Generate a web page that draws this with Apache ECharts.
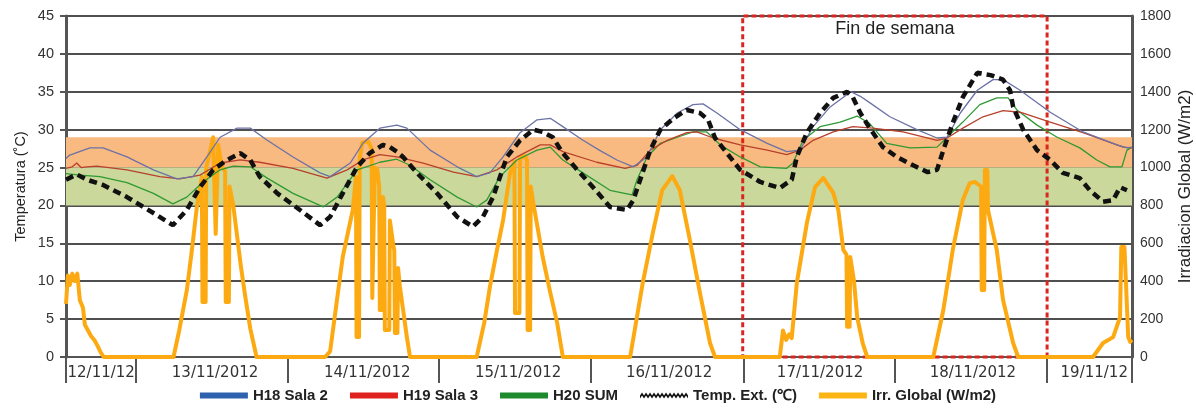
<!DOCTYPE html>
<html><head><meta charset="utf-8">
<script src="https://cdn.jsdelivr.net/npm/echarts@6/dist/echarts.min.js"></script>
<style>html,body{margin:0;padding:0;background:#fff}#c{width:1196px;height:415px}</style>
</head><body><div id="c"></div>
<script>
// x values: hours counted from 12/11/2012 00:00
const dayLabels = ['12/11/12','13/11/2012','14/11/2012','15/11/2012','16/11/2012','17/11/2012','18/11/2012','19/11/12'];
const dayLabelPos = [17.6, 35.7, 59.9, 83.9, 107.9, 131.9, 156.2, 175.5];
const daySeparators = [12, 23.1, 47.2, 71.3, 95.5, 119.7, 143.8, 168.0, 181.5];
const xStart = 12, xEnd = 181.5;
const weekendStart = 119.6, weekendEnd = 168.0;
const comfortBand = [25, 29];
const acceptBand = [20, 25];
const tempTicks = [0, 45, 5];
const irrTicks = [0, 1800, 200];

const h18Hours = [12.0,12.5,15.8,17.9,21.7,25.9,29.6,32.2,34.4,36.5,39.2,41.3,44.0,48.1,52.4,54.0,57.2,59.2,61.9,64.6,66.2,69.9,74.2,77.3,79.4,81.5,84.2,86.9,89.0,91.0,94.2,97.0,99.6,102.2,104.4,106.5,109.2,111.7,113.3,115.5,119.2,123.5,126.6,128.7,130.8,133.5,136.8,138.3,139.9,143.0,147.3,150.5,152.1,154.2,156.9,159.4,161.0,163.7,168.5,173.7,179.1,180.7,181.5];
const h18Temp  = [26.2,26.6,27.6,27.6,26.4,24.7,23.5,23.8,26.4,29.0,30.2,30.2,28.6,26.4,24.3,23.8,25.6,28.2,30.2,30.6,30.2,27.3,25.1,23.8,24.3,26.4,29.6,31.3,31.5,30.4,28.6,27.2,26.0,25.1,26.4,30.0,32.2,33.3,33.4,32.2,30.0,28.2,27.1,27.3,30.4,33.0,35.0,34.4,33.5,31.7,30.0,28.9,29.0,32.2,35.2,36.6,36.6,35.2,32.3,29.7,28.0,27.6,27.7];

const h19Hours = [12.0,13.0,13.7,14.4,15.3,16.9,21.7,26.9,30.1,33.3,36.5,39.7,42.8,48.1,53.5,56.7,59.2,61.9,64.6,68.8,73.6,77.3,80.5,83.7,87.4,89.0,91.0,96.4,100.9,102.8,104.9,107.6,110.7,112.3,114.9,119.2,123.5,126.6,128.7,130.8,134.0,137.1,140.3,145.1,150.5,152.1,154.6,157.8,161.0,163.7,168.5,173.7,180.1,181.5];
const h19Temp  = [24.9,25.1,25.6,25.0,25.1,25.2,24.7,23.8,23.5,24.0,25.6,26.0,25.7,24.9,23.6,24.7,26.0,26.7,26.4,25.6,24.4,23.8,24.7,26.4,28.0,28.0,27.1,25.7,24.9,25.3,27.3,28.6,29.6,29.7,28.9,28.0,27.3,26.7,27.3,28.6,29.7,30.4,30.2,29.7,28.6,28.9,30.2,31.7,32.5,32.3,31.0,29.6,27.7,27.6];

const h20Hours = [12.0,14.2,17.4,21.7,25.9,29.0,31.2,33.8,36.5,38.6,41.3,44.0,48.1,52.9,55.1,58.3,61.9,64.6,66.7,69.9,74.2,77.3,78.9,81.0,83.7,86.9,89.0,91.0,94.2,98.5,102.0,102.8,104.4,106.5,109.2,111.7,113.9,116.0,119.2,122.4,126.6,127.6,129.2,131.9,135.1,137.8,139.8,142.5,146.2,150.5,152.1,154.6,157.3,160.0,161.8,163.2,166.4,169.6,173.2,175.9,178.0,179.9,180.7,181.3];
const h20Temp  = [24.2,24.0,23.8,23.0,21.6,20.2,21.1,23.1,24.7,25.2,25.1,23.6,21.6,19.8,21.1,24.7,25.7,26.1,25.3,23.4,21.1,19.8,20.7,23.8,26.0,27.3,27.7,26.0,24.3,22.0,21.4,23.4,26.4,28.2,29.0,29.7,29.7,28.0,26.4,25.1,24.9,25.6,28.6,30.4,31.0,31.8,30.8,28.2,27.6,27.7,29.0,31.0,33.3,34.2,34.2,32.6,30.6,29.0,27.6,26.0,25.1,25.1,27.3,27.6];

const extHours = [12.0,12.3,13.7,15.3,17.9,21.7,25.9,29.0,31.2,33.3,35.4,37.6,39.7,41.3,42.8,45.6,49.2,52.4,54.0,56.0,58.3,60.3,62.4,63.5,64.6,65.6,67.8,71.0,74.2,76.7,78.3,79.9,82.1,84.2,86.3,87.8,89.4,91.0,93.3,95.8,98.5,101.2,102.2,103.3,104.9,106.5,108.6,110.7,112.8,114.1,115.2,117.1,119.2,122.4,125.5,127.4,128.2,129.8,131.9,134.0,136.2,137.1,138.3,139.8,141.9,144.1,146.7,149.0,150.5,151.5,153.0,154.6,156.9,159.0,161.0,162.1,162.6,164.2,166.4,168.5,170.5,173.2,174.8,176.9,178.5,179.6,180.7];
const extTemp  = [23.4,23.6,24.1,23.4,22.7,21.1,19.0,17.4,19.4,22.4,24.7,26.0,26.9,26.0,23.8,21.6,19.4,17.4,18.5,21.6,25.1,26.9,28.0,27.7,27.1,26.4,24.3,21.6,18.5,17.2,18.5,21.1,26.4,28.6,30.0,29.7,29.0,26.9,24.7,22.4,19.8,19.4,20.7,23.4,27.3,30.0,31.5,32.6,32.2,31.3,28.9,26.9,24.7,23.1,22.3,23.4,26.4,29.6,32.2,34.2,35.0,34.3,32.2,30.2,27.7,26.4,25.3,24.4,24.7,27.3,30.9,34.3,37.5,37.2,36.6,35.2,33.0,30.0,27.3,26.0,24.3,23.6,22.0,20.5,20.7,22.4,22.0];

const irrHours = [12.0,12.3,12.6,13.0,13.4,13.8,14.2,14.7,15.0,15.5,16.0,16.5,17.0,17.5,18.0,
 29.1,30.0,31.2,32.0,32.8,33.6,33.7,34.2,34.3,35.0,35.4,35.7,35.8,36.1,36.2,36.8,37.3,37.4,37.9,38.0,38.6,39.2,39.8,40.5,41.3,42.3,
 53.2,54.0,55.0,56.0,57.6,58.1,58.2,58.6,58.7,59.1,60.0,60.6,60.7,61.0,61.1,61.5,61.8,61.9,62.3,62.4,62.6,62.7,63.4,63.5,64.0,64.2,64.3,64.7,64.8,65.1,66.2,66.7,
 77.3,78.5,79.4,80.5,81.5,82.6,83.3,83.4,84.1,84.2,85.0,85.3,85.4,85.8,85.9,86.3,87.0,87.8,89.0,90.1,91.0,
 101.7,103.7,105.3,106.8,108.4,109.6,111.2,112.8,114.4,115.2,
 125.5,126.0,126.5,127.0,127.4,128.2,129.8,131.1,132.4,134.0,134.8,135.6,136.1,136.2,136.6,136.7,137.3,137.8,138.7,139.4,
 149.9,151.5,153.0,154.6,155.7,156.5,157.5,157.6,158.0,158.1,158.5,158.6,158.9,160.0,161.0,162.6,163.4,
 175.3,176.9,178.5,179.6,179.8,180.3,180.9,181.2,181.5];
const irrValues = [280,430,380,440,400,440,300,260,170,140,110,90,60,25,0,
 0,140,350,560,790,950,290,290,1000,1100,1160,1160,650,650,1120,1000,980,290,290,900,800,640,480,320,150,0,
 0,30,280,528,776,950,105,105,1050,1130,1140,1100,312,312,1000,990,900,248,248,845,800,142,142,720,600,560,127,127,470,370,105,0,
 0,180,370,560,723,970,1030,232,232,1050,1060,1040,142,142,900,813,680,528,340,180,0,
 0,390,654,881,955,881,617,338,74,0,
 0,140,90,120,100,390,707,897,945,866,776,565,540,160,160,528,400,211,70,0,
 0,248,565,829,918,924,900,354,354,987,987,776,776,565,300,74,0,
 0,74,105,211,580,580,105,80,90];

const zip = (xs, ys) => xs.map((x, i) => [x, ys[i]]);

// wavy legend icon for the dashed outdoor-temperature line
const waveTop = [], waveBot = [];
for (let i = 0; i <= 24; i++) { waveTop.push((i*2) + ',' + (i % 2 ? 0 : 3)); waveBot.unshift((i*2) + ',' + (i % 2 ? 3 : 6)); }
const waveIcon = 'path://M' + waveTop.join(' L') + ' L' + waveBot.join(' L') + ' Z';

const chart = echarts.init(document.getElementById('c'), null, {renderer: 'canvas'});
const axisCol = '#555';
chart.setOption({
  animation: false,
  grid: {left: 66, right: 64, top: 16, bottom: 58, containLabel: false, outerBoundsMode: 'none'},
  legend: {
    bottom: 7, left: 'center', itemWidth: 48, itemHeight: 6, itemGap: 22,
    textStyle: {fontFamily: 'Liberation Sans, Arial, sans-serif', fontWeight: 'bold', fontSize: 15, color: '#222'},
    data: [
      {name: 'H18 Sala 2', icon: 'rect', itemStyle: {color: '#2F62AE'}},
      {name: 'H19 Sala 3', icon: 'rect', itemStyle: {color: '#E0221E'}},
      {name: 'H20 SUM', icon: 'rect', itemStyle: {color: '#1E8A2E'}},
      {name: 'Temp. Ext. (\u2103)', icon: waveIcon, itemStyle: {color: '#111'}},
      {name: 'Irr. Global (W/m2)', icon: 'rect', itemStyle: {color: '#FDB515'}}
    ]
  },
  xAxis: {
    type: 'value', min: xStart, max: xEnd,
    axisLine: {lineStyle: {color: axisCol, width: 2}},
    splitLine: {show: false},
    axisTick: {show: true, customValues: daySeparators, length: 26, lineStyle: {color: axisCol, width: 2}},
    axisLabel: {
      customValues: dayLabelPos, margin: 9,
      fontFamily: 'DejaVu Sans, sans-serif', fontSize: 15, color: '#333',
      formatter: v => {
        let best = 0;
        dayLabelPos.forEach((p, i) => { if (Math.abs(p - v) < Math.abs(dayLabelPos[best] - v)) best = i; });
        return dayLabels[best];
      }
    }
  },
  yAxis: [
    {
      type: 'value', min: tempTicks[0], max: tempTicks[1], interval: tempTicks[2],
      name: 'Temperatura (\u02daC)', nameLocation: 'middle', nameRotate: 90, nameGap: 38, nameMoveOverlap: false,
      nameTextStyle: {fontFamily: 'Liberation Sans, Arial, sans-serif', fontSize: 14.5, color: '#222'},
      axisLine: {show: true, lineStyle: {color: axisCol, width: 3}},
      axisTick: {show: true, length: 6, lineStyle: {color: axisCol, width: 2}},
      axisLabel: {margin: 12, fontFamily: 'Liberation Sans Narrow, Liberation Sans, sans-serif', fontSize: 14.5, color: '#333'},
      splitLine: {show: true, lineStyle: {color: '#4f4f4f', width: 2}}
    },
    {
      type: 'value', min: irrTicks[0], max: irrTicks[1], interval: irrTicks[2],
      name: 'Irradiacion Global (W/m2)', nameLocation: 'middle', nameRotate: 90, nameGap: 45, nameMoveOverlap: false,
      nameTextStyle: {fontFamily: 'Liberation Sans, Arial, sans-serif', fontSize: 17, color: '#222'},
      axisLine: {show: true, lineStyle: {color: axisCol, width: 3}},
      axisTick: {show: false},
      axisLabel: {margin: 8, fontFamily: 'Liberation Sans Narrow, Liberation Sans, sans-serif', fontSize: 14, color: '#333',
        formatter: v => String(v)},
      splitLine: {show: false}
    }
  ],
  series: [
    {
      name: 'bands', type: 'line', data: [], z: -1, silent: true,
      markArea: {
        silent: true,
        data: [
          [{xAxis: xStart, yAxis: comfortBand[0], itemStyle: {color: '#F8BA80'}}, {xAxis: xEnd, yAxis: comfortBand[1]}],
          [{xAxis: xStart, yAxis: acceptBand[0], itemStyle: {color: '#CAD89C'}}, {xAxis: xEnd, yAxis: acceptBand[1]}]
        ]
      }
    },
    {
      name: 'Irr. Global (W/m2)', type: 'line', yAxisIndex: 1, data: zip(irrHours, irrValues),
      showSymbol: false, symbol: 'none', z: 3,
      lineStyle: {color: '#FDAA12', width: 4, join: 'round'}, itemStyle: {color: '#FDAA12'}
    },
    {
      name: 'H20 SUM', type: 'line', data: zip(h20Hours, h20Temp), symbol: 'none', z: 4,
      lineStyle: {color: '#2F9A32', width: 1.3}, itemStyle: {color: '#2F9A32'}
    },
    {
      name: 'H19 Sala 3', type: 'line', data: zip(h19Hours, h19Temp), symbol: 'none', z: 4,
      lineStyle: {color: '#B8402C', width: 1.3}, itemStyle: {color: '#B8402C'}
    },
    {
      name: 'H18 Sala 2', type: 'line', data: zip(h18Hours, h18Temp), symbol: 'none', z: 4,
      lineStyle: {color: '#6C72A6', width: 1.3}, itemStyle: {color: '#6C72A6'}
    },
    {
      name: 'Temp. Ext. (\u2103)', type: 'line', data: zip(extHours, extTemp), symbol: 'none', z: 5,
      lineStyle: {color: '#111', width: 4.5, type: [8, 5]}, itemStyle: {color: '#111'}
    },
    {
      name: 'weekend', type: 'line', data: [], z: 10, silent: true,
      markArea: {
        silent: true,
        label: {show: true, position: 'insideTop', distance: 6, fontFamily: 'Liberation Sans, Arial, sans-serif', fontSize: 18, color: '#222'},
        itemStyle: {color: 'rgba(0,0,0,0)', borderColor: '#D9261F', borderWidth: 3, borderType: [5, 3]},
        data: [[{name: 'Fin de semana', xAxis: weekendStart, yAxis: tempTicks[0]}, {xAxis: weekendEnd, yAxis: tempTicks[1]}]]
      }
    }
  ]
});
</script></body></html>
